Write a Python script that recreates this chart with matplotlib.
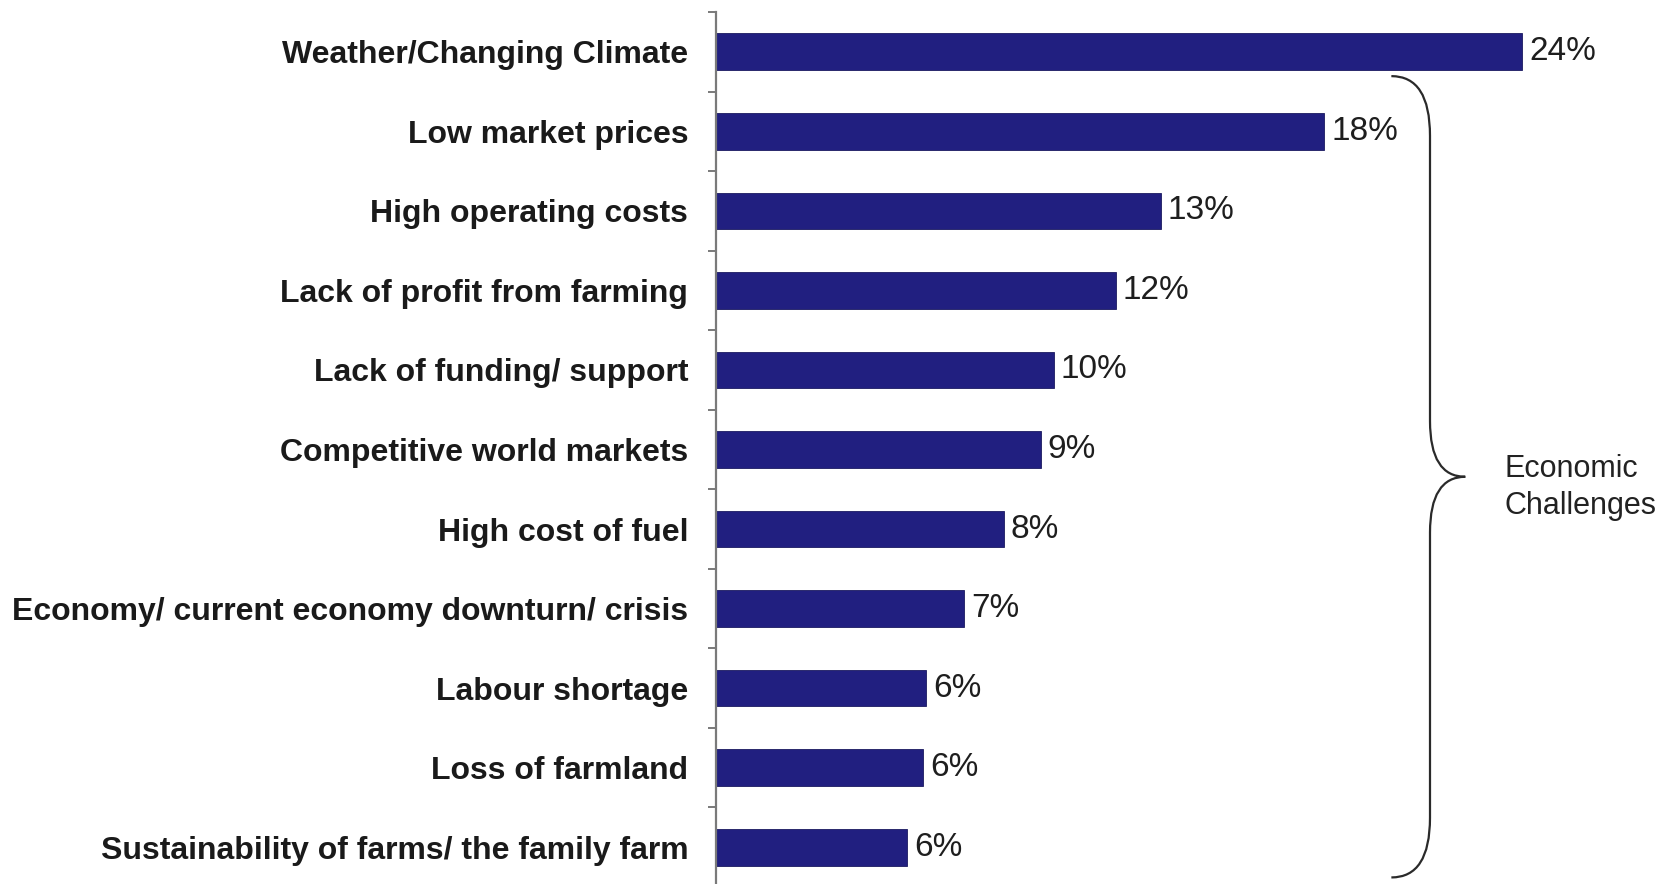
import matplotlib
matplotlib.use("Agg")
import matplotlib.pyplot as plt
from matplotlib.path import Path
from matplotlib.patches import PathPatch
import numpy as np

categories = [
    "Weather/Changing Climate",
    "Low market prices",
    "High operating costs",
    "Lack of profit from farming",
    "Lack of funding/ support",
    "Competitive world markets",
    "High cost of fuel",
    "Economy/ current economy downturn/ crisis",
    "Labour shortage",
    "Loss of farmland",
    "Sustainability of farms/ the family farm",
]
values = [24.0, 18.1, 13.24, 11.9, 10.06, 9.67, 8.57, 7.38, 6.25, 6.16, 5.68]
value_labels = ["24%", "18%", "13%", "12%", "10%", "9%", "8%", "7%", "6%", "6%", "6%"]
brace_label = "Economic\nChallenges"

plt.rcParams['font.family'] = ['Liberation Sans', 'DejaVu Sans']

W, H = 1665, 884
fig = plt.figure(figsize=(W / 100, H / 100), dpi=100)
fig.patch.set_facecolor('white')

ax_left, ax_right = 716, W
ax_top, ax_bottom = 12, 887
ax = fig.add_axes([ax_left / W, 1 - ax_bottom / H, (ax_right - ax_left) / W, (ax_bottom - ax_top) / H])

y = np.arange(len(categories))
bar_color = '#211f80'
ax.barh(y, values, height=0.46, color=bar_color, edgecolor='#1a1a60', linewidth=0.6)

ax.set_ylim(len(categories) - 0.5, -0.5)
ax.set_xlim(0, (ax_right - ax_left) / 33.6)

for s in ['top', 'right', 'bottom']:
    ax.spines[s].set_visible(False)
ax.spines['left'].set_color('#7a7a7a')
ax.spines['left'].set_linewidth(1.6)

ax.set_xticks([])
ax.set_yticks(y)
ax.set_yticklabels(categories, fontsize=23, fontweight='bold', color='#1a1a1a')
ax.tick_params(axis='y', which='major', length=0, pad=20)
ax.set_yticks(np.arange(-0.5, len(categories), 1.0), minor=True)
ax.tick_params(axis='y', which='minor', length=6, width=1.4, color='#7a7a7a', direction='out')

for yi, v, lab in zip(y, values, value_labels):
    ax.annotate(lab, xy=(v, yi), xytext=(5, 0), textcoords='offset points',
                va='center', ha='left', fontsize=24, color='#1e1e1e')

# curly brace spanning the economic challenges (categories 1..10)
y_top = 1 - 0.694
y_bot = len(categories) - 1 + 0.38
y_mid = (y_top + y_bot) / 2
x0, xv, xt = 20.1, 21.25, 22.3
ry = 0.75
rm = 0.7
verts = [
    (x0, y_top), (xv, y_top), (xv, y_top + ry),
    (xv, y_mid - rm),
    (xv, y_mid), (xt, y_mid),
    (xv, y_mid), (xv, y_mid + rm),
    (xv, y_bot - ry),
    (xv, y_bot), (x0, y_bot),
]
codes = [Path.MOVETO, Path.CURVE3, Path.CURVE3,
         Path.LINETO,
         Path.CURVE3, Path.CURVE3,
         Path.CURVE3, Path.CURVE3,
         Path.LINETO,
         Path.CURVE3, Path.CURVE3]
brace = PathPatch(Path(verts, codes), facecolor='none', edgecolor='#2a2a2a',
                  linewidth=1.6, clip_on=False)
ax.add_patch(brace)

ax.annotate(brace_label, xy=(xt, y_mid), xytext=(28, -8), textcoords='offset points',
            va='center', ha='left', fontsize=22, color='#222222', linespacing=1.3)

fig.savefig('out.png', dpi=100, facecolor='white')
